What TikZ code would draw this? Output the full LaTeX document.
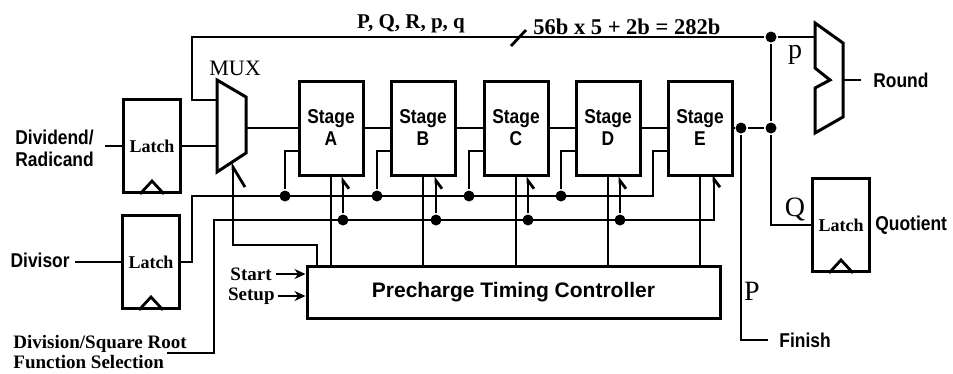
\documentclass[tikz,border=0pt]{standalone}
\usepackage{fontspec}
\setmainfont{Liberation Serif}
\setsansfont{Liberation Sans}
\usetikzlibrary{arrows.meta}
\newcommand\nrw[1]{\scalebox{0.87}[1]{#1}}
\begin{document}
\begin{tikzpicture}[x=1pt,y=-1pt, line width=2.8pt,
  box/.style={draw, line width=3pt, inner sep=0pt},
  stagebox/.style={box, minimum width=64pt, minimum height=94pt, align=center,
    font=\sffamily\bfseries\fontsize{20}{22}\selectfont},
  latchbox/.style={box, minimum width=57pt, minimum height=93pt,
    font=\bfseries\fontsize{18}{20}\selectfont},
  slab/.style={font=\sffamily\bfseries\fontsize{20}{21}\selectfont, inner sep=0pt},
  rlab/.style={font=\bfseries\fontsize{19}{20}\selectfont, inner sep=0pt},
  toplab/.style={font=\bfseries\fontsize{21}{22}\selectfont, inner sep=0pt},
  biglab/.style={font=\fontsize{28}{28}\selectfont, inner sep=0pt},
  dot/.style={circle, fill, inner sep=0pt, minimum size=11pt},
  harp/.style={-{Straight Barb[right,length=8pt,width=12pt]}},
  bigharp/.style={-{Straight Barb[right,length=20pt,width=24pt]}},
  sarrow/.style={-{Stealth[length=11pt,width=10pt]}},
]
\useasboundingbox (0,0) rectangle (953,373);

% ---------- latches ----------
\node[latchbox] (L1) at (152,146) {Latch};
\node[latchbox] (L2) at (151,262) {Latch};
\node[latchbox] (L3) at (841,225) {Latch};
\foreach \l in {L1,L2,L3}{
  \draw ([xshift=-12pt]\l.south) -- ([yshift=13pt]\l.south) -- ([xshift=12pt]\l.south);
}

% ---------- stages ----------
\node[stagebox] (A) at (331,128) {\nrw{Stage}\\\nrw{A}};
\node[stagebox] (B) at (423,128) {\nrw{Stage}\\\nrw{B}};
\node[stagebox] (C) at (516,128) {\nrw{Stage}\\\nrw{C}};
\node[stagebox] (D) at (608,128) {\nrw{Stage}\\\nrw{D}};
\node[stagebox] (E) at (700,128) {\nrw{Stage}\\\nrw{E}};
\foreach \s in {A,B,C,D,E}{ \path (\s.west) ++(0,23) coordinate (\s2); }

% ---------- controller ----------
\node[box, minimum width=413pt, minimum height=52pt,
  font=\sffamily\bfseries\fontsize{21}{22}\selectfont] (ptc) at (513.5,292) {Precharge Timing Controller};

% ---------- MUX ----------
\draw[line width=3pt] (217,80) -- (246,97) -- (246,153) -- (217,172) -- cycle;
\coordinate (muxA) at (217,100);
\coordinate (muxB) at (217,146);
\coordinate (muxOut) at (246,128);
\coordinate (muxSel) at (233,162);
\node[font=\fontsize{22}{22}\selectfont, inner sep=0pt] (muxlab) at (235,68) {MUX};

% ---------- Round MUX ----------
\draw[line width=3pt] (815,23) -- (843,43) -- (843,117) -- (815,133) -- (815,88) -- (830,80) -- (815,68) -- cycle;
\coordinate (rin) at (815,37);
\coordinate (rout) at (843,80);
\coordinate (rend) at (861,80);
\node[slab, anchor=west] (round) at (872,80) {\nrw{Round}};

% ---------- labels ----------
\node[slab, anchor=west, align=left, font=\sffamily\bfseries\fontsize{20}{22}\selectfont] (dvd) at (14,148) {\nrw{Dividend/}\\\nrw{Radicand}};
\node[slab, anchor=east] (dvs) at (71,260) {\nrw{Divisor}};
\node[slab, anchor=west] (quot) at (874,225) {\nrw{Quotient}};
\node[slab, anchor=west] (finish) at (778,340) {\nrw{Finish}};
\node[biglab] (Plab) at (752,291) {P};
\node[biglab] (Qlab) at (795,209) {Q};
\node[biglab] (plab) at (795,55) {p};
\node[toplab] (pqr) at (411,24) {P, Q, R, p, q};
\node[toplab, anchor=west, font=\bfseries\fontsize{22.5}{23}\selectfont] (bits) at (532,27) {56b x 5 + 2b = 282b};
\node[rlab, anchor=east] (start) at (273,274) {Start};
\node[rlab, anchor=east] (setup) at (276,296) {Setup};
\node[rlab, anchor=west, align=left] (fsel) at (12,352) {Division/Square Root\\Function Selection};

% ---------- dots ----------
\node[dot] (pdot) at (771,37) {};
\node[dot] (qdot) at (771,128) {};
\node[dot] (fdot) at (741,128) {};
\node[dot] (dA) at (285,196) {};
\node[dot] (dB) at (377,196) {};
\node[dot] (dC) at (469,196) {};
\node[dot] (dD) at (561,196) {};
\node[dot] (cA) at (343,220) {};
\node[dot] (cB) at (436,220) {};
\node[dot] (cC) at (528,220) {};
\node[dot] (cD) at (620,220) {};

% ---------- connectors ----------
% top bus
\draw (muxA) -| (192,37) -- (pdot) -- (rin);
\draw (511,46) -- (526,30);
% round
\draw (rout) -- (rend);
% dividend
\draw (105,146) -- (L1.west);
\draw (L1.east) -- (muxB);
% mux -> A, chain
\draw (muxOut) -- (muxOut -| A.west);
\draw (A.east) -- (B.west);
\draw (B.east) -- (C.west);
\draw (C.east) -- (D.west);
\draw (D.east) -- (E.west);
% E output
\draw (E.east) -- (fdot) -- (qdot);
\draw (pdot) -- (qdot);
\draw (qdot) |- (L3.west);
\draw (fdot) |- (768,340);
% divisor
\draw (75,262) -- (L2.west);
\draw (L2.east) -| (192,196) -- (653,196) |- (E2);
\draw (dA) |- (A2);
\draw (dB) |- (B2);
\draw (dC) |- (C2);
\draw (dD) |- (D2);
% function selection bus
\draw[harp] (167,353) -| (214,220) -- (714,220) -- (714,175);
\draw[harp] (cA) -- (cA |- A.south);
\draw[harp] (cB) -- (cB |- B.south);
\draw[harp] (cC) -- (cC |- C.south);
\draw[harp] (cD) -- (cD |- D.south);
% stage <-> controller
\foreach \s in {A,B,C,D,E}{ \draw (\s.south) -- (\s.south |- ptc.north); }
% mux select
\draw[bigharp] (317,266) |- (233,245) -- (muxSel);
% start / setup
\draw[sarrow, shorten <=3pt] (start.east) -- (start.east -| ptc.west);
\draw[sarrow, shorten <=2pt] (setup.east) -- (setup.east -| ptc.west);
\end{tikzpicture}
\end{document}
